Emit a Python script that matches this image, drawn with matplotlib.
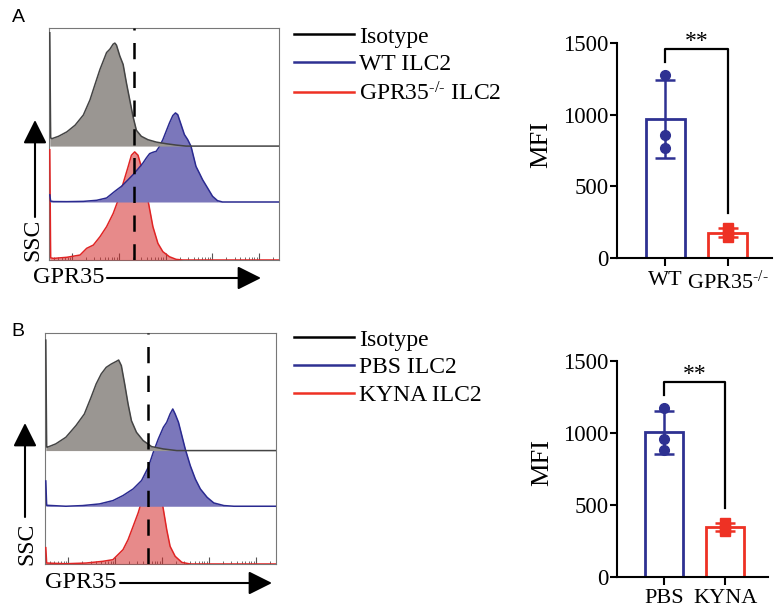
import numpy as np
import matplotlib.pyplot as plt
from matplotlib.lines import Line2D

W, H = 780, 612

# ---- flow histograms: x = log10(GPR35 intensity), y = % of mode ----
# panel A
a_iso_x = [1.522, 1.54, 1.567, 1.709, 1.887, 2.064, 2.241, 2.383, 2.489, 2.596, 2.667, 2.738, 2.809,
           2.879, 2.915, 2.950, 3.021, 3.092, 3.163, 3.234, 3.305, 3.376, 3.482, 3.624, 3.801, 4.014,
           4.227, 4.440, 6.43]
a_iso_y = [110, 8, 7.2, 9.5, 13.8, 20.3, 30.2, 44.9, 59.7, 74.4, 82.6, 90.8, 94.1,
           99, 100, 98, 87.5, 79.3, 61.3, 44.9, 28.5, 15.4, 9.5, 6.2, 3.9, 2.3,
           1, 0, 0]
a_wt_x = [1.522, 1.54, 1.603, 1.887, 2.241, 2.525, 2.738, 2.915, 3.057, 3.199, 3.305, 3.411, 3.518,
          3.589, 3.660, 3.730, 3.801, 3.872, 3.943, 4.014, 4.085, 4.156, 4.213, 4.262, 4.333, 4.404,
          4.475, 4.546, 4.652, 4.723, 4.794, 4.901, 5.007, 5.113, 5.220, 6.43]
a_wt_y = [8, 1, 0.5, 0.4, 0.7, 1.9, 4.5, 12, 17.6, 25, 30.7, 37.1, 43.8,
          49.4, 54.3, 55.8, 56.9, 62.5, 70, 79.4, 88.8, 97, 100, 98, 86.9, 75.7,
          70, 62.5, 40, 32.6, 25, 15.7, 6.4, 1.5, 0, 0]
a_ko_x = [1.522, 1.54, 1.603, 1.887, 2.170, 2.312, 2.454, 2.596, 2.738, 2.879, 2.986, 3.092, 3.199,
          3.270, 3.340, 3.411, 3.482, 3.553, 3.624, 3.730, 3.837, 3.943, 4.085, 4.227, 4.369, 6.43]
a_ko_y = [102, 2, 1.5, 2.5, 4.6, 10.8, 13.8, 21.5, 30.8, 43, 55.4, 70.8, 86.2,
          96.9, 100, 96.9, 86.2, 73.8, 55.4, 30.8, 15.4, 7.7, 3, 0.6, 0, 0]
a_gate = 3.326
a_peak = [0.444, 0.384, 0.466]  # peak height of isotype / WT / KO, fraction of plot height

# panel B
b_iso_x = [1.522, 1.54, 1.556, 1.735, 1.950, 2.165, 2.344, 2.487, 2.595, 2.703, 2.810, 2.918, 3.025,
           3.075, 3.133, 3.204, 3.276, 3.348, 3.455, 3.599, 3.778, 4.029, 4.315, 6.43]
b_iso_y = [122, 4, 3.7, 7.4, 14.7, 27.6, 40.4, 58.8, 73.5, 84.6, 91.9, 95.6, 98.5,
           100, 93.8, 73.5, 51.5, 33, 20.2, 11, 4.4, 1.8, 0, 0]
b_pbs_x = [1.522, 1.54, 1.950, 2.308, 2.667, 2.953, 3.168, 3.384, 3.563, 3.706, 3.814, 3.921, 4.029,
           4.100, 4.172, 4.229, 4.280, 4.351, 4.423, 4.495, 4.602, 4.710, 4.817, 4.961, 5.104, 5.319,
           5.534, 6.43]
b_pbs_y = [26, 1, 0, 0.7, 2.4, 5.8, 11, 17.8, 26.4, 40, 55.5, 69.2, 81.2,
           86.3, 94.9, 100, 94.9, 86.3, 72.6, 58.9, 41.8, 28, 17.8, 9.2, 3.4, 0.7,
           0, 0]
b_kyna_x = [1.522, 1.54, 1.950, 2.380, 2.738, 2.953, 3.061, 3.168, 3.276, 3.384, 3.491, 3.599, 3.706,
            3.778, 3.828, 3.885, 3.957, 4.029, 4.100, 4.172, 4.280, 4.423, 4.602, 6.43]
b_kyna_y = [17, 1, 0.3, 1, 2.8, 4.5, 9.7, 14.9, 25.3, 39.2, 53.1, 70.5, 87.8,
            97.6, 100, 94.8, 77.4, 56.6, 35.8, 18.4, 8, 1.7, 0, 0]
b_gate = 3.692
b_peak = [0.392, 0.421, 0.416]

tier_offsets = [0.491, 0.25, 0.0]

# ---- MFI per mouse ----
a_cats = ['WT', 'GPR35$^{\u2010/\u2010}$']
a_wt_mfi = [1275, 858, 765]
a_ko_mfi = [210, 180, 145]
a_bracket = [1368, 1454, 317]

b_cats = ['PBS', 'KYNA']
b_pbs_mfi = [1170, 955, 880]
b_kyna_mfi = [375, 335, 320]
b_bracket = [1263, 1354, 475]

# (edge, face, alpha)
iso_col = ('#444444', '#9a9692', 1.0)
blue_col = ('#2a2a90', '#7b77bb', 1.0)
red_col = ('#e02424', '#d42a2a', 0.55)
bar_blue = '#2e3192'
bar_red = '#ee3124'

plt.rcParams['font.family'] = ['Liberation Serif', 'DejaVu Serif']
plt.rcParams['mathtext.fontset'] = 'custom'
plt.rcParams['mathtext.rm'] = 'Liberation Serif'
plt.rcParams['mathtext.it'] = 'Liberation Serif:italic'

fig = plt.figure(figsize=(7.8, 6.12), dpi=100)


def fx(x):
    return x / W


def fy(y):
    return 1 - y / H


def box(l, t, r, b):
    return [l / W, 1 - b / H, (r - l) / W, (b - t) / H]


def draw_hist(ax, curves, peaks, gate):
    # draw bottom tier first so upper baselines sit on top of lower peaks
    for (xs, ys, cols), off, pk, z in list(zip(curves, tier_offsets, peaks, [5, 4, 3]))[::-1]:
        x = 10 ** np.array(xs)
        y = off + np.array(ys) / 100 * pk
        ax.fill_between(x, off, y, color=cols[1], alpha=cols[2], lw=0, zorder=z)
        ax.plot(x, y, color=cols[0], lw=1.1, zorder=z + 0.5)
    ax.axvline(10 ** gate, color='black', lw=1.8, dashes=(6.5, 5), zorder=7)
    ax.set_xscale('log')
    ax.set_xlim(10 ** 1.505, 10 ** 6.43)
    ax.set_ylim(0, 1)
    ax.set_yticks([])
    ax.tick_params(axis='x', which='both', direction='in', labelbottom=False, color='#555')
    ax.tick_params(axis='x', which='major', length=5, width=0.8)
    ax.tick_params(axis='x', which='minor', length=2.5, width=0.6)
    for s in ax.spines.values():
        s.set_color('#777')
        s.set_linewidth(0.8)


def axis_arrows(sx, sy_tail, sy_tip, ssc_x, ssc_y, gx, gx_tail, gx_tip, gy):
    fig.text(fx(ssc_x), fy(ssc_y), 'SSC', rotation=90, ha='center', va='center', fontsize=17)
    fig.text(fx(gx), fy(gy), 'GPR35', ha='left', va='center', fontsize=17.5)
    arr = dict(arrowstyle='-|>,head_length=0.4,head_width=0.2', color='black',
               lw=1.5, mutation_scale=36, shrinkA=0, shrinkB=0)
    fig.add_artist(plt.Annotation('', xy=(fx(sx), fy(sy_tip)), xytext=(fx(sx), fy(sy_tail)),
                                  xycoords='figure fraction', arrowprops=arr))
    fig.add_artist(plt.Annotation('', xy=(fx(gx_tip), fy(gy)), xytext=(fx(gx_tail), fy(gy)),
                                  xycoords='figure fraction', arrowprops=arr))


def draw_bar(ax, cats, groups, colors, markers, bracket):
    xs = np.arange(len(cats))
    means = [np.mean(g) for g in groups]
    sds = [np.std(g, ddof=1) for g in groups]
    ax.bar(xs, means, width=0.63, fill=False, edgecolor=colors, lw=2, zorder=2)
    for i in range(len(groups)):
        ax.errorbar(xs[i], means[i], yerr=sds[i], color=colors[i], capsize=7,
                    capthick=1.8, elinewidth=1.8, zorder=3)
        ax.plot([xs[i]] * len(groups[i]), groups[i], markers[i], color=colors[i], ms=7, zorder=4)
    ax.plot([xs[0], xs[0], xs[1], xs[1]], [bracket[0], bracket[1], bracket[1], bracket[2]],
            color='black', lw=1.6, clip_on=False)
    ax.text((xs[0] + xs[1]) / 2, bracket[1] - 20, '**', ha='center', va='bottom',
            fontsize=17, clip_on=False)
    ax.set_xlim(-0.78, 1.71)
    ax.set_ylim(0, 1500)
    ax.set_yticks([0, 500, 1000, 1500])
    ax.set_xticks(xs)
    ax.set_xticklabels(cats)
    ax.tick_params(axis='y', length=5, width=1.5, pad=1, labelsize=16.5)
    ax.tick_params(axis='x', length=6, width=1.5, pad=3, labelsize=16)
    for s in ['top', 'right']:
        ax.spines[s].set_visible(False)
    for s in ['left', 'bottom']:
        ax.spines[s].set_linewidth(1.5)
    ax.set_ylabel('MFI', fontsize=19)
    ax.yaxis.set_label_coords(-0.42, 0.53)


def legend(labels, top):
    handles = [Line2D([], [], color=c, lw=1.8) for c in ['black', bar_blue, bar_red]]
    fig.legend(handles, labels, loc='upper left', bbox_to_anchor=(fx(294), fy(top)),
               frameon=False, fontsize=17, handlelength=2.55, handletextpad=0.2,
               labelspacing=0.27, borderpad=0, borderaxespad=0)


# ---- panel A ----
axh_a = fig.add_axes(box(49, 28, 279, 260))
draw_hist(axh_a, [(a_iso_x, a_iso_y, iso_col), (a_wt_x, a_wt_y, blue_col), (a_ko_x, a_ko_y, red_col)],
          a_peak, a_gate)
axis_arrows(35, 217, 120, 33, 240, 33, 107, 261, 278)
legend(['Isotype', 'WT ILC2', 'GPR35$^{\u2010/\u2010}$ ILC2'], 26)

axb_a = fig.add_axes(box(617, 42.7, 771.7, 258.3))
draw_bar(axb_a, a_cats, [a_wt_mfi, a_ko_mfi], [bar_blue, bar_red], ['o', 's'], a_bracket)

fig.text(fx(18), fy(17), 'A', fontsize=14, family='Liberation Sans', ha='center', va='center')

# ---- panel B ----
axh_b = fig.add_axes(box(45, 333, 276, 564))
draw_hist(axh_b, [(b_iso_x, b_iso_y, iso_col), (b_pbs_x, b_pbs_y, blue_col), (b_kyna_x, b_kyna_y, red_col)],
          b_peak, b_gate)
axis_arrows(25, 517, 423, 27, 544, 45, 120, 272, 583)
legend(['Isotype', 'PBS ILC2', 'KYNA ILC2'], 329)

axb_b = fig.add_axes(box(616.7, 360.7, 768.3, 576.7))
draw_bar(axb_b, b_cats, [b_pbs_mfi, b_kyna_mfi], [bar_blue, bar_red], ['o', 's'], b_bracket)

fig.text(fx(18), fy(332), 'B', fontsize=14, family='Liberation Sans', ha='center', va='center')

fig.savefig('out.png', dpi=100)
